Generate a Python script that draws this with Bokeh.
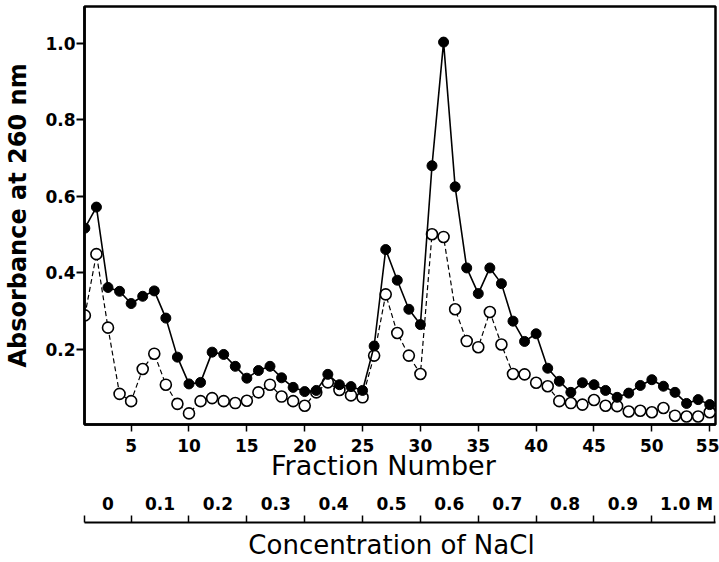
from bokeh.plotting import figure
from bokeh.models import (LinearAxis, FixedTicker, Range1d,
                          CustomJSTickFormatter, PrintfTickFormatter)
from bokeh.embed import file_html
from bokeh.resources import INLINE

# ---------------- data ----------------
fraction = list(range(1, 56))

filled_abs = [0.517, 0.572, 0.362, 0.352, 0.320, 0.339, 0.353, 0.282, 0.180, 0.110,
              0.114, 0.193, 0.187, 0.156, 0.125, 0.145, 0.156, 0.126, 0.101, 0.090,
              0.093, 0.135, 0.108, 0.103, 0.093, 0.209, 0.461, 0.381, 0.305, 0.265,
              0.680, 1.003, 0.625, 0.413, 0.346, 0.413, 0.372, 0.274, 0.221, 0.241,
              0.151, 0.117, 0.088, 0.113, 0.108, 0.093, 0.075, 0.086, 0.106, 0.121,
              0.104, 0.088, 0.059, 0.069, 0.056]

open_abs = [0.289, 0.449, 0.257, 0.084, 0.065, 0.149, 0.189, 0.108, 0.058, 0.033,
            0.065, 0.073, 0.065, 0.060, 0.066, 0.088, 0.108, 0.077, 0.065, 0.053,
            0.088, 0.114, 0.094, 0.080, 0.075, 0.184, 0.344, 0.243, 0.184, 0.136,
            0.501, 0.494, 0.305, 0.222, 0.206, 0.298, 0.213, 0.136, 0.135, 0.113,
            0.104, 0.065, 0.060, 0.056, 0.068, 0.053, 0.052, 0.038, 0.040, 0.036,
            0.047, 0.027, 0.025, 0.025, 0.036]

y_ticks = [0.2, 0.4, 0.6, 0.8, 1.0]
x_ticks = [5, 10, 15, 20, 25, 30, 35, 40, 45, 50, 55]

nacl_tick_marks = [1.0, 5, 10, 15, 20, 25, 30, 35, 40, 45, 50, 55.45]
nacl_label_pos = [3.0, 7.5, 12.5, 17.5, 22.5, 27.5, 32.5, 37.5, 42.5, 47.5, 53.0]
nacl_labels = ["0", "0.1", "0.2", "0.3", "0.4", "0.5", "0.6", "0.7", "0.8", "0.9", "1.0 M"]

x_title = "Fraction Number"
x_title_pos = 26.8
nacl_title = "Concentration of NaCl"
nacl_title_pos = 27.5
y_title = "Absorbance at 260 nm"

TICK_FONT = "DejaVu Sans"
LABEL_FONT = "DejaVu Sans"


def single_label(text):
    return CustomJSTickFormatter(args=dict(t=text), code="return t;")


def lookup_labels(pos, labs):
    return CustomJSTickFormatter(
        args=dict(pos=pos, labs=labs),
        code="""
        let best = 0, d = 1e9;
        for (let i = 0; i < pos.length; i++) {
            const dd = Math.abs(pos[i] - tick);
            if (dd < d) { d = dd; best = i; }
        }
        return labs[best];
        """)


# ---------------- figure ----------------
p = figure(width=719, height=562, output_backend="svg", toolbar_location=None,
           x_range=Range1d(0.97, 55.5), y_range=Range1d(0.004, 1.096),
           min_border_left=84, min_border_right=4, min_border_top=6,
           min_border_bottom=138)
p.grid.visible = False
p.outline_line_color = "black"
p.outline_line_width = 2.5
p.background_fill_color = "white"
p.border_fill_color = "white"

# series
p.line(fraction, open_abs, line_color="black", line_width=1.2, line_dash="5 3")
p.scatter(fraction, open_abs, size=11, marker="circle", fill_color="white",
          line_color="black", line_width=1.6)
p.line(fraction, filled_abs, line_color="black", line_width=1.6)
p.scatter(fraction, filled_abs, size=10, marker="circle", fill_color="black",
          line_color="black")

# y axis
ya = p.yaxis[0]
ya.ticker = FixedTicker(ticks=y_ticks)
ya.formatter = PrintfTickFormatter(format="%.1f")
ya.major_tick_out = 8
ya.major_tick_in = 0
ya.minor_tick_line_color = None
ya.major_tick_line_width = 2
ya.axis_line_width = 2.5
ya.major_label_text_font = TICK_FONT
ya.major_label_text_font_size = "17px"
ya.major_label_text_font_style = "bold"
ya.major_label_text_color = "black"
ya.major_label_standoff = 1
ya.axis_label = y_title
ya.axis_label_text_font = LABEL_FONT
ya.axis_label_text_font_size = "24px"
ya.axis_label_text_font_style = "bold"
ya.axis_label_text_color = "black"
ya.axis_label_standoff = 10

# x axis (fraction number ticks)
xa = p.xaxis[0]
xa.ticker = FixedTicker(ticks=x_ticks)
xa.major_tick_out = 7
xa.major_tick_in = 0
xa.minor_tick_line_color = None
xa.major_tick_line_width = 1.5
xa.axis_line_width = 2.5
xa.major_label_text_font = TICK_FONT
xa.major_label_text_font_size = "17px"
xa.major_label_text_font_style = "bold"
xa.major_label_text_color = "black"
xa.major_label_standoff = 7

# "Fraction Number" title (single label axis)
fn_axis = LinearAxis(
    ticker=FixedTicker(ticks=[x_title_pos]), formatter=single_label(x_title),
    axis_line_color=None, major_tick_line_color=None, minor_tick_line_color=None,
    major_label_text_font=LABEL_FONT, major_label_text_font_size="27px",
    major_label_text_color="black", major_label_standoff=-11)
p.add_layout(fn_axis, "below")

# NaCl labels (no line, no ticks)
lab_axis = LinearAxis(
    ticker=FixedTicker(ticks=nacl_label_pos),
    formatter=lookup_labels(nacl_label_pos, nacl_labels),
    axis_line_color=None, major_tick_line_color=None, minor_tick_line_color=None,
    major_label_text_font=TICK_FONT, major_label_text_font_size="17px",
    major_label_text_font_style="bold", major_label_text_color="black",
    major_label_standoff=4,
    axis_label=" ", axis_label_text_font_size="5px", axis_label_standoff=-3)
p.add_layout(lab_axis, "below")

# NaCl scale line with upward ticks
line_axis = LinearAxis(
    ticker=FixedTicker(ticks=nacl_tick_marks),
    formatter=CustomJSTickFormatter(code="return '';"),
    axis_line_width=2, major_tick_line_width=1.5,
    major_tick_in=7, major_tick_out=0, minor_tick_line_color=None,
    major_label_text_font_size="0px", major_label_standoff=0)
p.add_layout(line_axis, "below")

# "Concentration of NaCl" title (single label axis)
nt_axis = LinearAxis(
    ticker=FixedTicker(ticks=[nacl_title_pos]), formatter=single_label(nacl_title),
    axis_line_color=None, major_tick_line_color=None, minor_tick_line_color=None,
    major_label_text_font=LABEL_FONT, major_label_text_font_size="26px",
    major_label_text_color="black", major_label_standoff=1)
p.add_layout(nt_axis, "below")

open("out.html", "w").write(file_html(p, INLINE))
